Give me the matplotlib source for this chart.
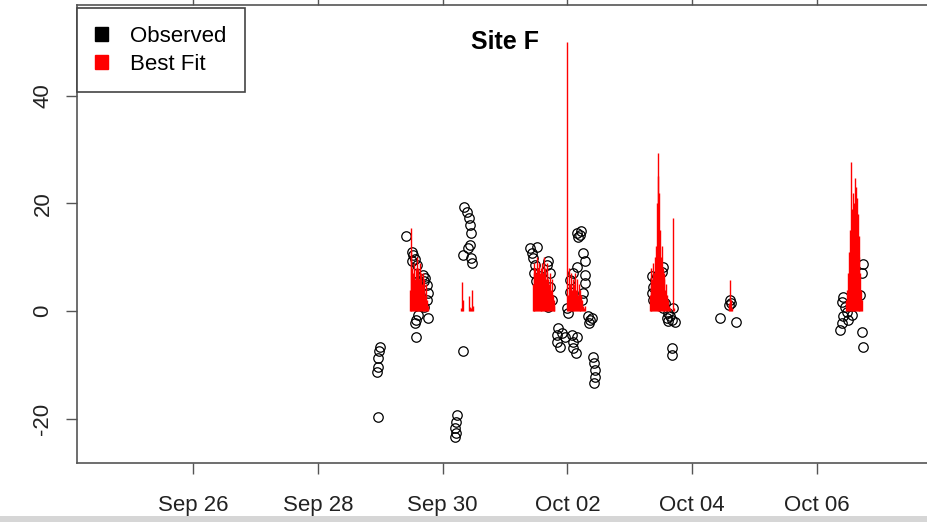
import numpy as np
import pandas as pd
import matplotlib
matplotlib.use("Agg")
import matplotlib.pyplot as plt
from matplotlib.patches import Patch, Rectangle

plt.rcParams["font.family"] = ["Liberation Sans", "DejaVu Sans"]

# Observed series: days after Sep 26 and measured value
base = pd.Timestamp("2015-09-26")
obs_day = [
    2.997, 2.981, 2.970, 2.960, 2.944, 2.960,
    3.409, 3.505, 3.510, 3.526, 3.558, 3.585, 3.686, 3.718, 3.745, 3.766, 3.745,
    3.702, 3.606, 3.569, 3.558, 3.766, 3.569, 3.638, 3.606, 3.702,
    4.343, 4.386, 4.423, 4.439, 4.455, 4.439, 4.407, 4.327, 4.455, 4.466,
    4.327, 4.226, 4.210, 4.199, 4.210, 4.199,
    5.401, 5.428, 5.449, 5.508, 5.689, 5.668, 5.721, 5.721, 5.748, 5.689,
    5.465, 5.497, 5.529, 5.561, 5.593, 5.641, 5.481,
    6.010, 5.849, 5.829, 5.909, 5.962, 5.829, 5.881, 6.069, 6.090, 6.149, 6.090, 6.133,
    6.149, 6.170, 6.202, 6.218, 6.250, 6.282, 6.149, 6.090, 6.282, 6.042, 6.282,
    6.042, 6.250, 6.229, 5.989, 6.330, 6.362, 6.389, 6.346,
    6.410, 6.426, 6.442, 6.442, 6.426,
    7.532, 7.511, 7.404, 7.372, 7.351, 7.372, 7.404, 7.484, 7.532, 7.612, 7.644,
    7.671, 7.591, 7.692, 7.724, 7.671, 7.671, 7.436, 7.356, 7.564, 7.612,
    8.606, 8.590, 8.622, 8.446, 8.702,
    10.737, 10.716, 10.417, 10.396, 10.449, 10.476, 10.556, 10.497, 10.396,
    10.369, 10.716, 10.737, 10.417, 10.689,
]
obs_val = [
    -6.6, -7.5, -8.7, -10.3, -11.3, -19.6,
    14.0, 11.0, 9.2, 10.4, 9.7, 8.5, 6.7, 6.1, 4.8, 3.3, 2.0,
    0.7, -0.7, -1.7, -2.2, -1.3, -4.8, 3.0, 5.5, 5.5,
    19.4, 18.4, 17.3, 16.0, 14.5, 12.3, 11.7, 10.4, 9.8, 8.9,
    -7.5, -19.3, -20.5, -21.7, -22.6, -23.3,
    11.7, 10.7, 9.8, 11.9, 9.2, 8.5, 7.0, 4.5, 2.0, 0.8,
    7.0, 5.5, 4.0, 6.5, 3.0, 1.5, 8.5,
    -0.4, -3.2, -4.5, -4.1, -4.8, -5.7, -6.6, -4.5, -5.7, -4.8, -6.9, -7.8,
    14.5, 13.8, 14.1, 14.8, 10.7, 9.2, 8.2, 7.0, 6.7, 5.7, 5.2,
    3.6, 3.3, 2.0, 0.5, -1.0, -1.7, -1.3, -2.3,
    -8.5, -9.7, -11.0, -12.2, -13.4,
    8.2, 7.3, 5.7, 4.5, 3.3, 2.0, 1.1, 2.7, 0.5, -0.4, -1.0,
    -1.7, -1.3, 0.5, -2.0, -6.9, -8.2, 6.5, 6.5, 1.5, -1.8,
    2.0, 1.1, 1.5, -1.3, -2.0,
    8.8, 7.0, 2.7, 1.7, 0.8, -0.1, -0.7, -1.7, -2.2,
    -3.5, -3.8, -6.6, -1.0, 3.0,
]

# Best-fit output, 20-minute steps from each start time
fit_b = [4, 15.4, 11, 8, 7, 9, 6, 8, 10, 7, 8, 6, 9, 7, 5, 7, 4, 6, 3, 5, 2, 1]
fit_c = [0.5, 5.4, 2, 0, 0, 0, 0, 0, 0, 0, 2.8, 0.8, 0.5, 3.9, 1]
fit_d1 = [5, 7, 9, 8, 7, 10, 8, 9, 7, 6, 8, 9, 7, 10, 8, 6, 7, 9, 6, 5, 7, 4, 6, 3, 2, 1]
fit_d2 = [50, 3, 8, 5, 7, 4, 6, 3, 5, 7, 4, 6, 3, 5, 2, 4, 3, 2, 1, 0.5, 1]
fit_e = [3, 5, 8, 6, 9, 7, 10, 12, 20, 25, 29.3, 22, 15, 10, 12, 8, 6, 7, 4, 5,
         3, 2, 1, 0.5, 0, 0, 0, 17.3, 0.5]
fit_f = [1.5, 5.7, 2, 0.5]
fit_g = [2, 4, 7, 11, 15, 27.7, 19, 16, 22, 20, 24.7, 23, 21, 18, 14, 10, 7, 4, 2]
fit_runs = [
    ("2015-09-29 11:20", fit_b),
    ("2015-09-30 07:00", fit_c),
    ("2015-10-01 10:40", fit_d1),
    ("2015-10-02 00:00", fit_d2),
    ("2015-10-03 07:40", fit_e),
    ("2015-10-04 14:20", fit_f),
    ("2015-10-06 11:20", fit_g),
]

tick_dates = pd.date_range("2015-09-26", periods=6, freq="2D")

fig = plt.figure(figsize=(9.27, 5.22), dpi=100)
ax = fig.add_axes([0.0831, 0.113, 0.9234, 0.8774])

obs_time = base + pd.to_timedelta(obs_day, unit="D")
ax.plot(obs_time, obs_val, "o", mfc="none", mec="black", ms=6.8, mew=0.9, zorder=2)

for start, vals in fit_runs:
    t = pd.date_range(start, periods=len(vals), freq="20min")
    ax.vlines(t, 0, vals, color="red", lw=1.0, zorder=3)

ax.set_xlim(base - pd.Timedelta(days=1.859), base + pd.Timedelta(days=11.859))
ax.set_ylim(-28.2, 56.8)
ax.set_xticks(tick_dates)
ax.set_xticklabels([d.strftime("%b %d") for d in tick_dates])
ax.set_yticks([-20, 0, 20, 40])
ax.set_yticklabels(["-20", "0", "20", "40"], rotation=90, va="center")

for s in ax.spines.values():
    s.set_color("#555555")
    s.set_linewidth(1.2)
ax.tick_params(axis="both", direction="out", length=8, width=1.0, color="#555555",
               labelsize=16, labelcolor="#222222")
ax.tick_params(axis="x", top=True, labeltop=False, pad=15)
ax.tick_params(axis="y", pad=9)

ax.text(0.5, 0.919, "Site F", transform=ax.transAxes, ha="center", va="center",
        fontsize=18, fontweight="bold")

handles = [Patch(facecolor="black", edgecolor="black"),
           Patch(facecolor="red", edgecolor="red")]
leg = ax.legend(handles, ["Observed", "Best Fit"], loc="upper left",
                bbox_to_anchor=(0.0, 0.993), borderaxespad=0, fontsize=16,
                handlelength=0.6, handleheight=0.6, handletextpad=1.0,
                labelspacing=0.3, borderpad=0.8, fancybox=False, framealpha=1)
leg.get_frame().set_edgecolor("#444444")
leg.get_frame().set_linewidth(1.2)

# light strip along the bottom edge, kept behind the tick labels
fig.patches.append(Rectangle((0, 0), 1, 6 / 522, transform=fig.transFigure,
                             facecolor="#d6d6d6", edgecolor="none", zorder=-1))

fig.savefig("out.png", dpi=100)
